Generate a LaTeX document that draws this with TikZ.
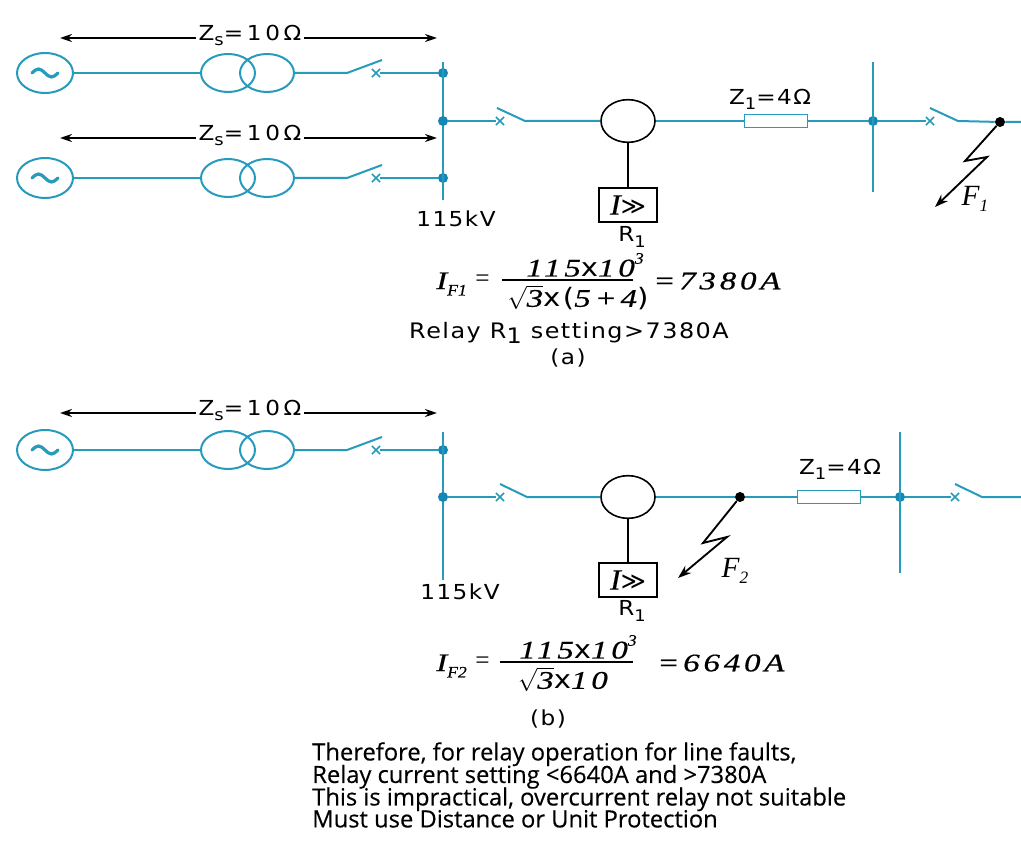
\documentclass[tikz,border=0pt]{standalone}
\usepackage{fontspec}
\setmainfont{Open Sans}
\newfontfamily\djvu{DejaVu Sans}
\newfontfamily\lf{DejaVu Sans}[FakeStretch=1.12, LetterSpace=7]
\newfontfamily\lfz{DejaVu Sans}[FakeStretch=1.12, LetterSpace=18]
\newfontfamily\tnr{Liberation Serif}
\newfontfamily\fser{Liberation Serif}[FakeStretch=1.3, LetterSpace=15, FakeBold=0.6]
\newfontfamily\fsub{Liberation Serif}[FakeStretch=1.1, FakeBold=0.4]
\newfontfamily\sxw{DejaVu Sans}[FakeStretch=1.15, LetterSpace=10]
\newfontfamily\body{Open Sans}[FakeBold=0.3]
\usetikzlibrary{shapes.misc,shapes.geometric,arrows.meta}
\definecolor{cy}{RGB}{38,155,188}
\definecolor{dotc}{RGB}{22,135,180}
\tikzset{
  wire/.style={cy, line width=1.5pt},
  gen/.style={ellipse, draw=cy, line width=1.5pt, minimum width=42pt, minimum height=30pt, inner sep=0pt},
  trafo/.style={ellipse, draw=cy, line width=1.5pt, minimum width=40.5pt, minimum height=28.5pt, inner sep=0pt},
  ctr/.style={ellipse, draw=black, line width=1.2pt, minimum width=40.5pt, minimum height=32pt, inner sep=0pt},
  busdot/.style={circle, fill=dotc, inner sep=0pt, minimum size=7.5pt},
  fdot/.style={circle, fill=black, inner sep=0pt, minimum size=7.5pt},
  xmark/.style={cross out, draw=cy, line width=1.1pt, inner sep=0pt, minimum size=5pt},
  res/.style={rectangle, draw=cy, fill=white, line width=1.2pt, minimum width=47pt, minimum height=10pt, inner sep=0pt},
  relay/.style={rectangle, draw=black, line width=1.5pt, minimum width=43pt, minimum height=25pt, inner sep=0pt},
  tilde/.style={cy, line width=2.4pt, line cap=round},
  dim/.style={black, line width=1.9pt, {Stealth[length=9pt,width=6pt]}-{Stealth[length=9pt,width=6pt]}},
  lbl/.style={font=\fontsize{15.5}{18}\lf, inner sep=1pt},
  zlbl/.style={font=\fontsize{15.5}{18}\lfz, fill=white, inner sep=2pt},
  bolt/.style={black, line width=1.4pt, -{Stealth[length=10pt,width=7pt]}},
  formula/.style={font=\fontsize{19}{22}\fser\itshape, inner sep=0pt},
  fbar/.style={black, line width=1pt}
}
\newcommand{\Zs}{Z\raisebox{-0.45ex}{\fontsize{12}{12}\selectfont s}=10Ω}
\newcommand{\Zone}{Z\raisebox{-0.45ex}{\fontsize{12}{12}\selectfont 1}=4Ω}
\newcommand{\Rone}{R\raisebox{-0.45ex}{\fontsize{12}{12}\selectfont 1}}
\newcommand{\Igg}{{\fsub\itshape\fontsize{22}{22}\selectfont I}{\djvu\fontsize{18}{18}\selectfont ≫}}
\newcommand{\sx}{{\upshape\sxw x}}
\begin{document}
\begin{tikzpicture}[x=0.75pt,y=-0.75pt]
\useasboundingbox (0,0) rectangle (1021,852);
% ================= (a) =================
\coordinate (za1) at (60,38); \coordinate (zb1) at (437,38);
\draw[dim] (za1) -- (zb1);
\node[zlbl] (zl1) at (250,35) {\Zs};
\coordinate (za2) at (60,138); \coordinate (zb2) at (437,138);
\draw[dim] (za2) -- (zb2);
\node[zlbl] (zl2) at (250,135) {\Zs};
% row 1
\node[gen] (g1) at (45,73) {};
\draw[tilde] ([shift={(-13,0)}]g1.center) sin ++(6.5,-4) cos ++(6.5,4) sin ++(6.5,4) cos ++(6.5,-4);
\node[trafo] (t1a) at (228,73) {};
\node[trafo] (t1b) at (267,73) {};
\coordinate (s1a) at (347,73); \coordinate (s1b) at (382,60);
\node[xmark] (x1) at (376,73) {};
\node[busdot] (d1) at (443,73) {};
\draw[wire] (g1.east) -- (t1a.west);
\draw[wire] (t1b.east) -- (s1a) -- (s1b);
\draw[wire] (x1) -- (d1);
% row 2
\node[gen] (g2) at (45,178) {};
\draw[tilde] ([shift={(-13,0)}]g2.center) sin ++(6.5,-4) cos ++(6.5,4) sin ++(6.5,4) cos ++(6.5,-4);
\node[trafo] (t2a) at (228,178) {};
\node[trafo] (t2b) at (267,178) {};
\coordinate (s2a) at (347,178); \coordinate (s2b) at (382,165);
\node[xmark] (x2) at (376,178) {};
\node[busdot] (d3) at (443,178) {};
\draw[wire] (g2.east) -- (t2a.west);
\draw[wire] (t2b.east) -- (s2a) -- (s2b);
\draw[wire] (x2) -- (d3);
% left bus
\coordinate (bt1) at (443,62); \coordinate (bb1) at (443,200);
\draw[wire] (bt1) -- (bb1);
\node[busdot] (d2) at (443,121) {};
\node[lbl] (kv1) at (456,219) {115kV};
% main line
\node[xmark] (x3) at (500,121) {};
\coordinate (s3a) at (525,121); \coordinate (s3b) at (497,108);
\node[ctr] (ct1) at (628,121) {};
\node[res] (r1) at (776,121) {};
\node[busdot] (d4) at (873,121) {};
\node[xmark] (x4) at (930,121) {};
\coordinate (s4a) at (958,121); \coordinate (s4b) at (930,108);
\node[fdot] (f1) at (1000,122) {};
\coordinate (e1) at (1021,122);
\draw[wire] (d2) -- (x3);
\draw[wire] (s3b) -- (s3a) -- (ct1.west);
\draw[wire] (ct1.east) -- (r1.west);
\draw[wire] (r1.east) -- (d4);
\draw[wire] (d4) -- (x4);
\draw[wire] (s4b) -- (s4a) -- (f1) -- (e1);
\coordinate (bt2) at (873,62); \coordinate (bb2) at (873,192);
\draw[wire] (bt2) -- (bb2);
\node[lbl] (z1a) at (770,99) {\Zone};
% relay
\node[relay] (rel1) at (628,205) {\Igg};
\draw[black, line width=1.2pt] (ct1.south) -- (rel1.north);
\node[lbl] (rn1) at (632,237) {\Rone};
% fault F1
\coordinate (fa1) at (965,161); \coordinate (fa2) at (987,157); \coordinate (fa3) at (935,207);
\draw[bolt] (f1) -- (fa1) -- (fa2) -- (fa3);
\node[inner sep=0pt] (fl1) at (975,199) {\tnr\itshape\fontsize{22}{22}\selectfont F\raisebox{-0.4ex}{\fontsize{13}{13}\selectfont 1}};
% formula a
\node[formula, anchor=west] (ia) at (436,284) {I\raisebox{-0.55ex}{\fsub\fontsize{12}{12}\selectfont F1}};
\node[formula, anchor=west] (eqa) at (475,281) {{\upshape\tnr =}};
\coordinate (bar1) at (502,280); \coordinate (bar2) at (633,280);
\draw[fbar] (bar1) -- (bar2);
\node[formula, anchor=south] (na) at (585,277) {115\sx10\raisebox{1.1ex}{\fsub\fontsize{12}{12}\selectfont 3}};
\node[formula, anchor=north] (da) at (578,285) {$\sqrt{\hbox{\fser\itshape 3}}$\sx{\upshape\sxw(}5+4{\upshape\sxw)}};
\node[formula, anchor=west] (ra) at (653,281) {=7380A};
\node[lbl, font=\fontsize{16}{18}\lf] (rs1) at (569,333) {Relay R\raisebox{-0.45ex}{1} setting>7380A};
\node[lbl] (pa) at (568,358) {(a)};
% ================= (b) =================
\coordinate (za3) at (60,413); \coordinate (zb3) at (437,413);
\draw[dim] (za3) -- (zb3);
\node[zlbl] (zl3) at (250,410) {\Zs};
\node[gen] (g3) at (45,450) {};
\draw[tilde] ([shift={(-13,0)}]g3.center) sin ++(6.5,-4) cos ++(6.5,4) sin ++(6.5,4) cos ++(6.5,-4);
\node[trafo] (t3a) at (228,450) {};
\node[trafo] (t3b) at (267,450) {};
\coordinate (s5a) at (347,450); \coordinate (s5b) at (382,437);
\node[xmark] (x5) at (376,450) {};
\node[busdot] (d5) at (443,450) {};
\draw[wire] (g3.east) -- (t3a.west);
\draw[wire] (t3b.east) -- (s5a) -- (s5b);
\draw[wire] (x5) -- (d5);
\coordinate (bt3) at (443,432); \coordinate (bb3) at (443,580);
\draw[wire] (bt3) -- (bb3);
\node[busdot] (d6) at (443,497) {};
\node[lbl] (kv2) at (460,592) {115kV};
\node[xmark] (x6) at (500,497) {};
\coordinate (s6a) at (527,497); \coordinate (s6b) at (500,484);
\node[ctr] (ct2) at (628,497) {};
\node[fdot] (f2) at (740,497) {};
\node[res] (r2) at (829,497) {};
\node[busdot] (d7) at (900,497) {};
\node[xmark] (x7) at (955,497) {};
\coordinate (s7a) at (982,497); \coordinate (s7b) at (955,484);
\coordinate (e2) at (1021,497);
\draw[wire] (d6) -- (x6);
\draw[wire] (s6b) -- (s6a) -- (ct2.west);
\draw[wire] (ct2.east) -- (f2) -- (r2.west);
\draw[wire] (r2.east) -- (d7);
\draw[wire] (d7) -- (x7);
\draw[wire] (s7b) -- (s7a) -- (e2);
\coordinate (bt4) at (900,432); \coordinate (bb4) at (900,573);
\draw[wire] (bt4) -- (bb4);
\node[lbl] (z1b) at (840,469) {\Zone};
\node[relay] (rel2) at (628,580) {\Igg};
\draw[black, line width=1.2pt] (ct2.south) -- (rel2.north);
\node[lbl] (rn2) at (632,611) {\Rone};
\coordinate (fb1) at (703,543); \coordinate (fb2) at (727,537); \coordinate (fb3) at (678,578);
\draw[bolt] (f2) -- (fb1) -- (fb2) -- (fb3);
\node[inner sep=0pt] (fl2) at (735,571) {\tnr\itshape\fontsize{22}{22}\selectfont F\raisebox{-0.4ex}{\fontsize{13}{13}\selectfont 2}};
% formula b
\node[formula, anchor=west] (ib) at (436,666) {I\raisebox{-0.55ex}{\fsub\fontsize{12}{12}\selectfont F2}};
\node[formula, anchor=west] (eqb) at (475,663) {{\upshape\tnr =}};
\coordinate (bar3) at (500,662); \coordinate (bar4) at (633,662);
\draw[fbar] (bar3) -- (bar4);
\node[formula, anchor=south] (nb) at (578,659) {115\sx10\raisebox{1.1ex}{\fsub\fontsize{12}{12}\selectfont 3}};
\node[formula, anchor=north] (db) at (563,667) {$\sqrt{\hbox{\fser\itshape 3}}$\sx10};
\node[formula, anchor=west] (rb) at (657,663) {=6640A};
\node[lbl] (pb) at (548,719) {(b)};
\node[anchor=north west, align=left, inner sep=0pt, font=\fontsize{17.8}{16.9}\body] (txt) at (312,742) {Therefore, for relay operation for line faults,\\[-1.9pt]Relay current setting <6640A and >7380A\\[-1.9pt]This is impractical, overcurrent relay not suitable\\[-1.9pt]Must use Distance or Unit Protection};
\end{tikzpicture}
\end{document}
